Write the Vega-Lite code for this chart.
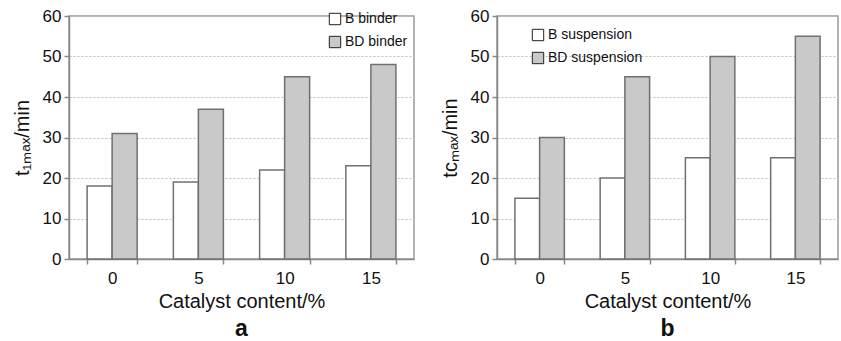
{
  "$schema": "https://vega.github.io/schema/vega-lite/v6.json",
  "background": "white",
  "padding": {"left": 11, "top": 6, "right": 0, "bottom": 0},
  "spacing": 24,
  "resolve": {"scale": {"fill": "independent", "xOffset": "independent"}, "legend": {"fill": "independent"}},
  "config": {
    "font": "Liberation Sans",
    "view": {"stroke": "#9a9a9a", "strokeWidth": 1.5},
    "axis": {
      "labelFont": "Liberation Sans",
      "titleFont": "Liberation Sans",
      "labelFontSize": 17,
      "titleFontSize": 20,
      "titleFontWeight": "normal",
      "labelColor": "#111",
      "titleColor": "#111",
      "domainColor": "#888",
      "domainWidth": 1.5,
      "tickColor": "#888",
      "tickWidth": 1.5,
      "tickSize": 5
    },
    "legend": {
      "labelFont": "Liberation Sans",
      "labelFontSize": 14,
      "labelColor": "#111",
      "symbolType": "square",
      "symbolSize": 130,
      "symbolStrokeColor": "#222",
      "symbolStrokeWidth": 1,
      "rowPadding": 7,
      "labelOffset": 3
    },
    "title": {"font": "Liberation Sans", "fontSize": 23, "fontWeight": "bold", "color": "#111"}
  },
  "datasets": {
    "a": [
      {"content": "0", "series": "B binder", "t": 18},
      {"content": "0", "series": "BD binder", "t": 31},
      {"content": "5", "series": "B binder", "t": 19},
      {"content": "5", "series": "BD binder", "t": 37},
      {"content": "10", "series": "B binder", "t": 22},
      {"content": "10", "series": "BD binder", "t": 45},
      {"content": "15", "series": "B binder", "t": 23},
      {"content": "15", "series": "BD binder", "t": 48}
    ],
    "b": [
      {"content": "0", "series": "B suspension", "t": 15},
      {"content": "0", "series": "BD suspension", "t": 30},
      {"content": "5", "series": "B suspension", "t": 20},
      {"content": "5", "series": "BD suspension", "t": 45},
      {"content": "10", "series": "B suspension", "t": 25},
      {"content": "10", "series": "BD suspension", "t": 50},
      {"content": "15", "series": "B suspension", "t": 25},
      {"content": "15", "series": "BD suspension", "t": 55}
    ]
  },
  "hconcat": [
    {
      "width": 345,
      "height": 243,
      "data": {"name": "a"},
      "title": {"text": "a", "orient": "bottom", "offset": 7},
      "mark": {"type": "bar", "stroke": "#707070", "strokeWidth": 1.5},
      "encoding": {
        "x": {
          "field": "content", "type": "ordinal", "sort": ["0", "5", "10", "15"],
          "scale": {"paddingInner": 0.42, "paddingOuter": 0.21},
          "axis": {"labelAngle": 0, "title": "Catalyst content/%", "tickBand": "extent", "labelPadding": 6, "titlePadding": 5}
        },
        "xOffset": {"field": "series", "type": "nominal", "sort": ["B binder", "BD binder"]},
        "y": {
          "field": "t", "type": "quantitative",
          "scale": {"domain": [0, 60], "nice": false},
          "axis": {"values": [0, 10, 20, 30, 40, 50, 60], "title": "t₁ₘₐₓ/min", "grid": true, "gridColor": "#bdbdbd", "gridDash": [2, 2], "gridWidth": 1.2, "labelPadding": 3, "titlePadding": 10}
        },
        "fill": {
          "field": "series", "type": "nominal",
          "scale": {"domain": ["B binder", "BD binder"], "range": ["#ffffff", "#c9c9c9"]},
          "legend": {"title": null, "orient": "none", "legendX": 259, "legendY": -4}
        }
      }
    },
    {
      "width": 341,
      "height": 243,
      "data": {"name": "b"},
      "title": {"text": "b", "orient": "bottom", "offset": 7},
      "mark": {"type": "bar", "stroke": "#707070", "strokeWidth": 1.5},
      "encoding": {
        "x": {
          "field": "content", "type": "ordinal", "sort": ["0", "5", "10", "15"],
          "scale": {"paddingInner": 0.42, "paddingOuter": 0.21},
          "axis": {"labelAngle": 0, "title": "Catalyst content/%", "tickBand": "extent", "labelPadding": 6, "titlePadding": 5}
        },
        "xOffset": {"field": "series", "type": "nominal", "sort": ["B suspension", "BD suspension"]},
        "y": {
          "field": "t", "type": "quantitative",
          "scale": {"domain": [0, 60], "nice": false},
          "axis": {"values": [0, 10, 20, 30, 40, 50, 60], "title": "tcₘₐₓ/min", "grid": true, "gridColor": "#bdbdbd", "gridDash": [2, 2], "gridWidth": 1.2, "labelPadding": 3, "titlePadding": 10}
        },
        "fill": {
          "field": "series", "type": "nominal",
          "scale": {"domain": ["B suspension", "BD suspension"], "range": ["#ffffff", "#c9c9c9"]},
          "legend": {"title": null, "orient": "none", "legendX": 34, "legendY": 12}
        }
      }
    }
  ]
}
